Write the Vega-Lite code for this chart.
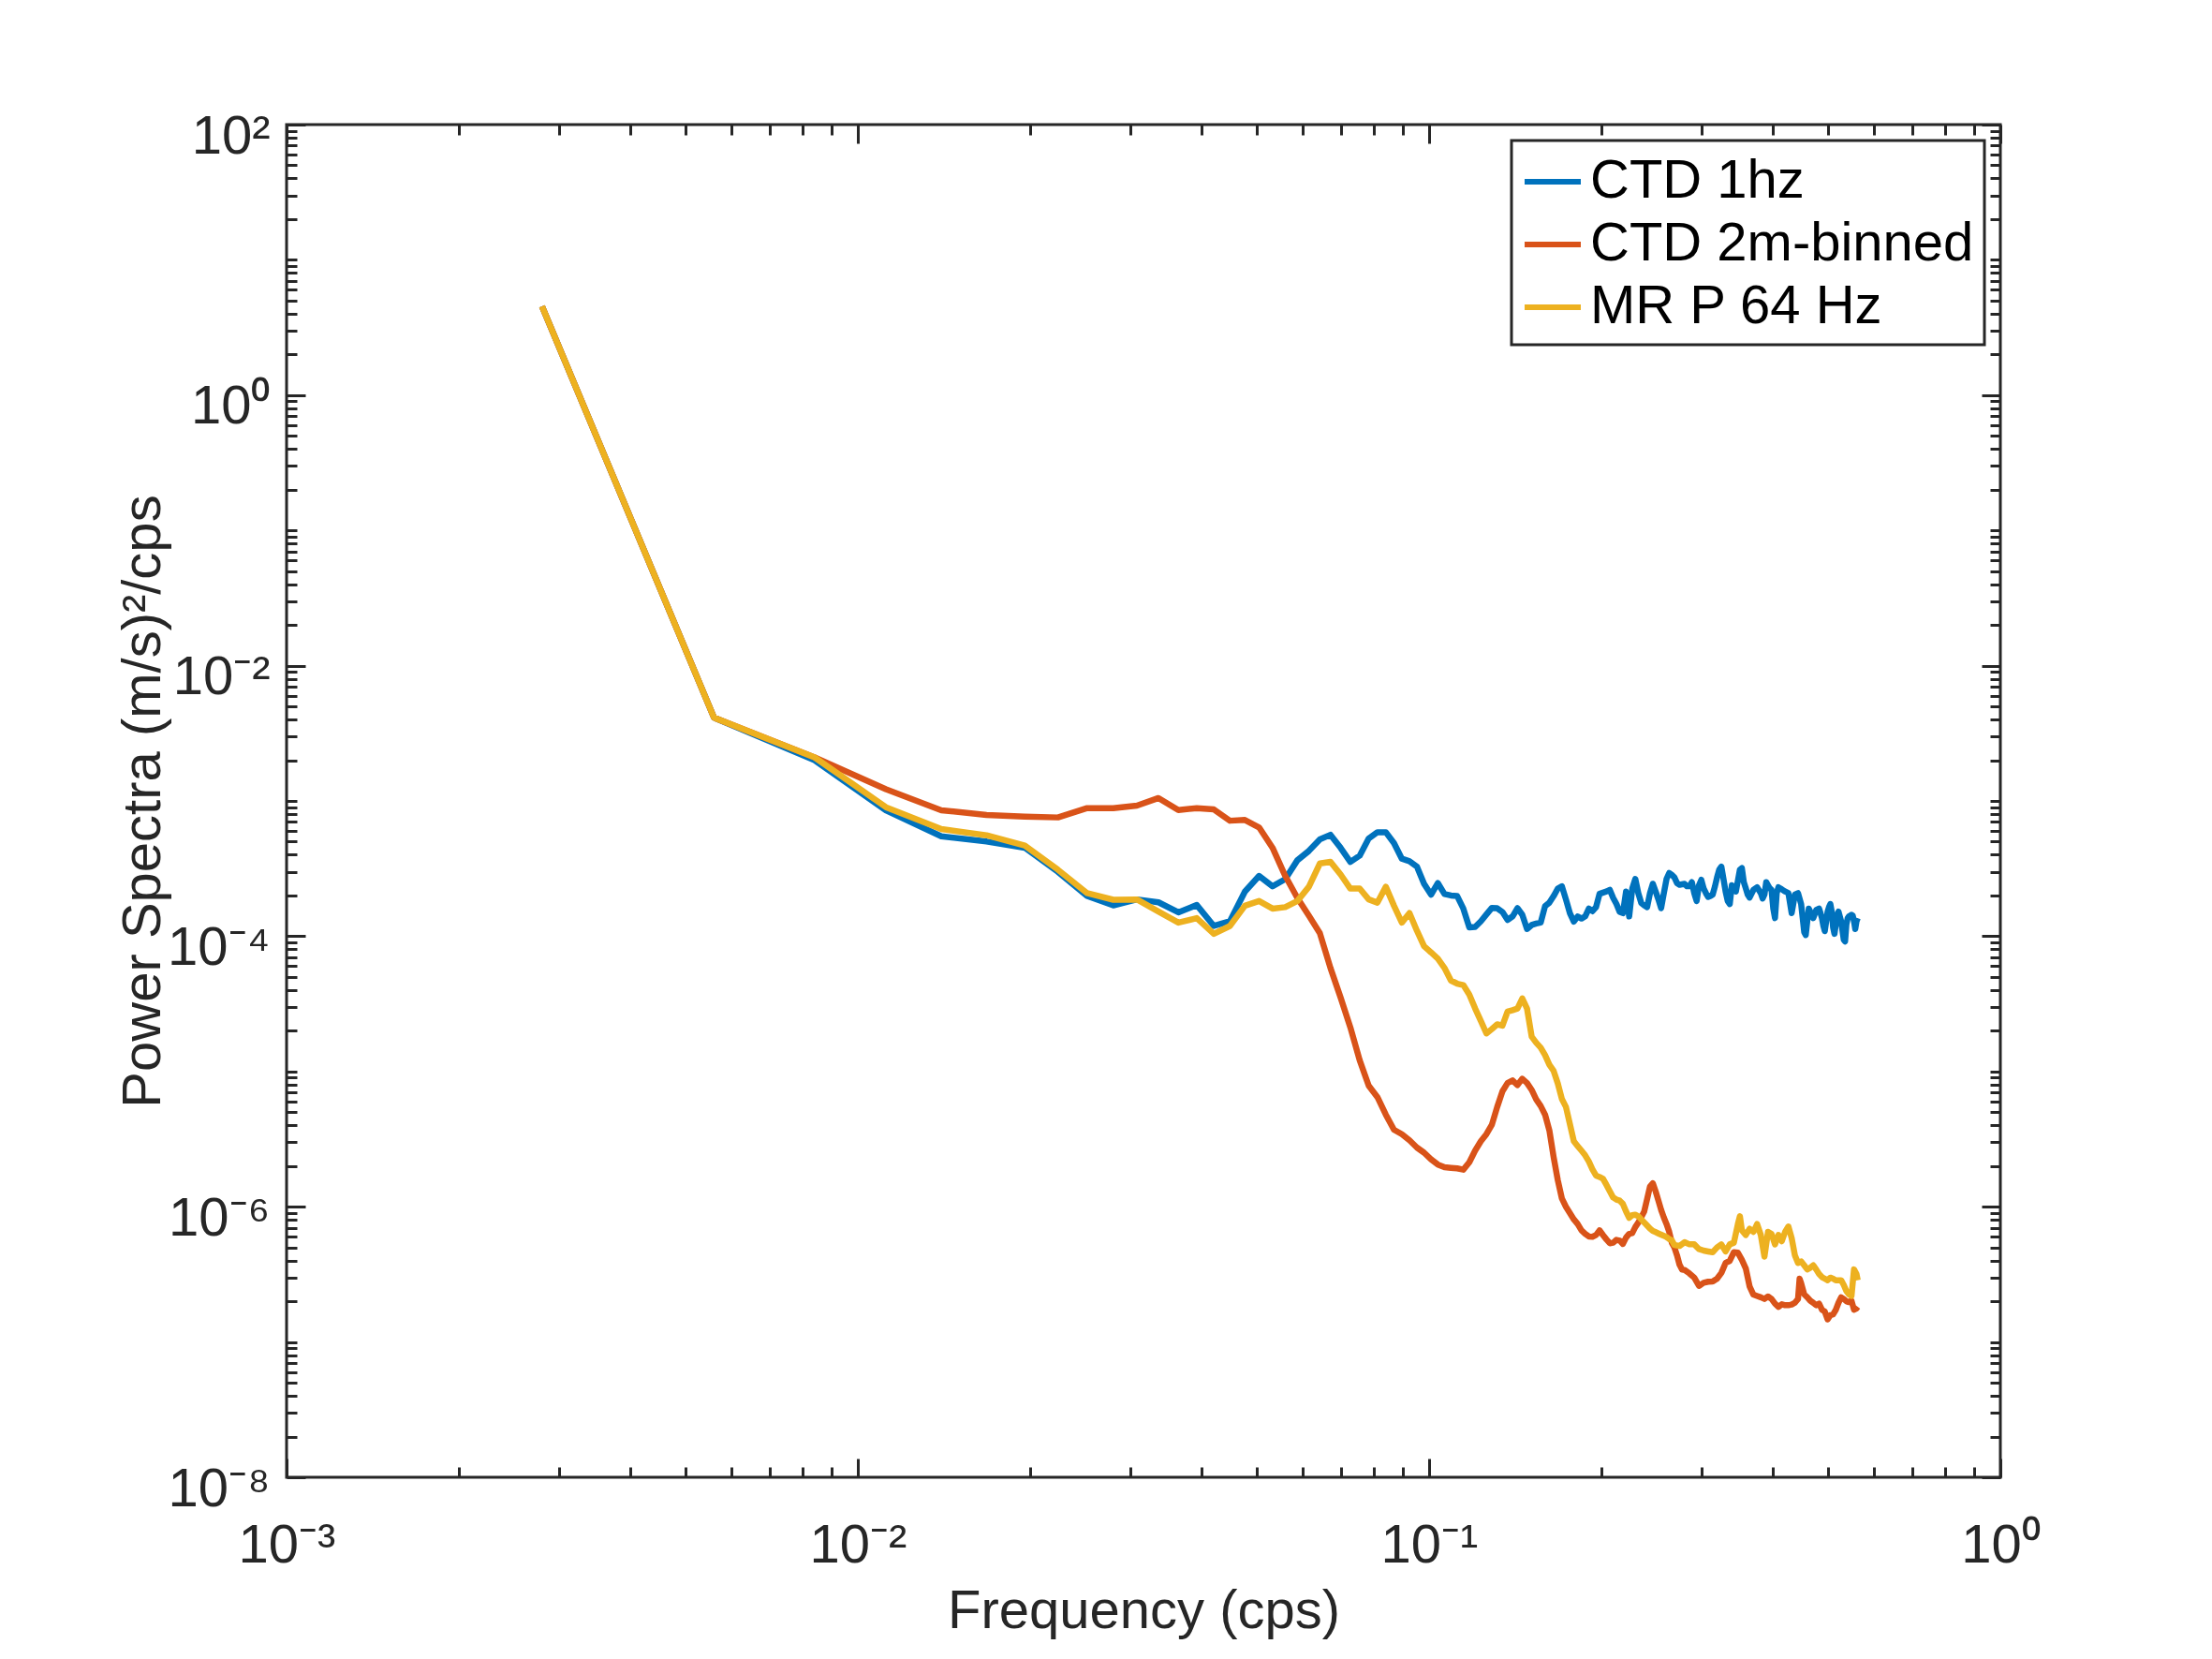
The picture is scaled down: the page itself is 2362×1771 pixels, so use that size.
{
  "$schema": "https://vega.github.io/schema/vega-lite/v6.json",
  "width": 1830,
  "height": 1444,
  "autosize": {"type": "none"},
  "padding": {"left": 306, "top": 133, "right": 226, "bottom": 194},
  "background": "white",
  "data": {
    "values": [
      {"f": 0.0028, "s": "CTD 1hz", "p": 4.54},
      {"f": 0.0056, "s": "CTD 1hz", "p": 0.00413},
      {"f": 0.0084, "s": "CTD 1hz", "p": 0.002},
      {"f": 0.0112, "s": "CTD 1hz", "p": 8.53e-4},
      {"f": 0.014, "s": "CTD 1hz", "p": 5.48e-4},
      {"f": 0.0168, "s": "CTD 1hz", "p": 5.01e-4},
      {"f": 0.0196, "s": "CTD 1hz", "p": 4.51e-4},
      {"f": 0.0224, "s": "CTD 1hz", "p": 2.99e-4},
      {"f": 0.0252, "s": "CTD 1hz", "p": 1.98e-4},
      {"f": 0.028, "s": "CTD 1hz", "p": 1.69e-4},
      {"f": 0.0308, "s": "CTD 1hz", "p": 1.87e-4},
      {"f": 0.0336, "s": "CTD 1hz", "p": 1.78e-4},
      {"f": 0.0364, "s": "CTD 1hz", "p": 1.50e-4},
      {"f": 0.0392, "s": "CTD 1hz", "p": 1.70e-4},
      {"f": 0.042, "s": "CTD 1hz", "p": 1.19e-4},
      {"f": 0.0448, "s": "CTD 1hz", "p": 1.29e-4},
      {"f": 0.0476, "s": "CTD 1hz", "p": 2.14e-4},
      {"f": 0.0504, "s": "CTD 1hz", "p": 2.79e-4},
      {"f": 0.0532, "s": "CTD 1hz", "p": 2.34e-4},
      {"f": 0.056, "s": "CTD 1hz", "p": 2.64e-4},
      {"f": 0.0588, "s": "CTD 1hz", "p": 3.64e-4},
      {"f": 0.0616, "s": "CTD 1hz", "p": 4.27e-4},
      {"f": 0.0644, "s": "CTD 1hz", "p": 5.20e-4},
      {"f": 0.0672, "s": "CTD 1hz", "p": 5.62e-4},
      {"f": 0.07, "s": "CTD 1hz", "p": 4.50e-4},
      {"f": 0.0728, "s": "CTD 1hz", "p": 3.54e-4},
      {"f": 0.0756, "s": "CTD 1hz", "p": 3.94e-4},
      {"f": 0.0784, "s": "CTD 1hz", "p": 5.28e-4},
      {"f": 0.0812, "s": "CTD 1hz", "p": 5.87e-4},
      {"f": 0.084, "s": "CTD 1hz", "p": 5.87e-4},
      {"f": 0.0868, "s": "CTD 1hz", "p": 4.88e-4},
      {"f": 0.0896, "s": "CTD 1hz", "p": 3.74e-4},
      {"f": 0.0924, "s": "CTD 1hz", "p": 3.58e-4},
      {"f": 0.0952, "s": "CTD 1hz", "p": 3.27e-4},
      {"f": 0.098, "s": "CTD 1hz", "p": 2.44e-4},
      {"f": 0.1008, "s": "CTD 1hz", "p": 2.03e-4},
      {"f": 0.1036, "s": "CTD 1hz", "p": 2.47e-4},
      {"f": 0.1064, "s": "CTD 1hz", "p": 2.05e-4},
      {"f": 0.1092, "s": "CTD 1hz", "p": 2.0e-4},
      {"f": 0.112, "s": "CTD 1hz", "p": 1.98e-4},
      {"f": 0.1148, "s": "CTD 1hz", "p": 1.60e-4},
      {"f": 0.1176, "s": "CTD 1hz", "p": 1.16e-4},
      {"f": 0.1204, "s": "CTD 1hz", "p": 1.17e-4},
      {"f": 0.1232, "s": "CTD 1hz", "p": 1.29e-4},
      {"f": 0.126, "s": "CTD 1hz", "p": 1.45e-4},
      {"f": 0.1288, "s": "CTD 1hz", "p": 1.62e-4},
      {"f": 0.1316, "s": "CTD 1hz", "p": 1.61e-4},
      {"f": 0.1344, "s": "CTD 1hz", "p": 1.51e-4},
      {"f": 0.1372, "s": "CTD 1hz", "p": 1.32e-4},
      {"f": 0.14, "s": "CTD 1hz", "p": 1.40e-4},
      {"f": 0.1428, "s": "CTD 1hz", "p": 1.61e-4},
      {"f": 0.1456, "s": "CTD 1hz", "p": 1.44e-4},
      {"f": 0.1484, "s": "CTD 1hz", "p": 1.13e-4},
      {"f": 0.1512, "s": "CTD 1hz", "p": 1.21e-4},
      {"f": 0.154, "s": "CTD 1hz", "p": 1.24e-4},
      {"f": 0.1568, "s": "CTD 1hz", "p": 1.26e-4},
      {"f": 0.1596, "s": "CTD 1hz", "p": 1.67e-4},
      {"f": 0.1624, "s": "CTD 1hz", "p": 1.77e-4},
      {"f": 0.1652, "s": "CTD 1hz", "p": 1.98e-4},
      {"f": 0.168, "s": "CTD 1hz", "p": 2.25e-4},
      {"f": 0.1708, "s": "CTD 1hz", "p": 2.34e-4},
      {"f": 0.1736, "s": "CTD 1hz", "p": 1.87e-4},
      {"f": 0.1764, "s": "CTD 1hz", "p": 1.48e-4},
      {"f": 0.1792, "s": "CTD 1hz", "p": 1.28e-4},
      {"f": 0.182, "s": "CTD 1hz", "p": 1.40e-4},
      {"f": 0.1848, "s": "CTD 1hz", "p": 1.35e-4},
      {"f": 0.1876, "s": "CTD 1hz", "p": 1.40e-4},
      {"f": 0.1904, "s": "CTD 1hz", "p": 1.60e-4},
      {"f": 0.1932, "s": "CTD 1hz", "p": 1.53e-4},
      {"f": 0.196, "s": "CTD 1hz", "p": 1.64e-4},
      {"f": 0.1988, "s": "CTD 1hz", "p": 2.06e-4},
      {"f": 0.2016, "s": "CTD 1hz", "p": 2.10e-4},
      {"f": 0.2044, "s": "CTD 1hz", "p": 2.14e-4},
      {"f": 0.2072, "s": "CTD 1hz", "p": 2.20e-4},
      {"f": 0.21, "s": "CTD 1hz", "p": 1.92e-4},
      {"f": 0.2128, "s": "CTD 1hz", "p": 1.73e-4},
      {"f": 0.2156, "s": "CTD 1hz", "p": 1.51e-4},
      {"f": 0.2184, "s": "CTD 1hz", "p": 1.48e-4},
      {"f": 0.2212, "s": "CTD 1hz", "p": 2.14e-4},
      {"f": 0.224, "s": "CTD 1hz", "p": 1.40e-4},
      {"f": 0.2268, "s": "CTD 1hz", "p": 2.25e-4},
      {"f": 0.2296, "s": "CTD 1hz", "p": 2.65e-4},
      {"f": 0.2324, "s": "CTD 1hz", "p": 2.08e-4},
      {"f": 0.2352, "s": "CTD 1hz", "p": 1.76e-4},
      {"f": 0.238, "s": "CTD 1hz", "p": 1.69e-4},
      {"f": 0.2408, "s": "CTD 1hz", "p": 1.64e-4},
      {"f": 0.2436, "s": "CTD 1hz", "p": 2.08e-4},
      {"f": 0.2464, "s": "CTD 1hz", "p": 2.44e-4},
      {"f": 0.2492, "s": "CTD 1hz", "p": 2.14e-4},
      {"f": 0.252, "s": "CTD 1hz", "p": 1.87e-4},
      {"f": 0.2548, "s": "CTD 1hz", "p": 1.61e-4},
      {"f": 0.2576, "s": "CTD 1hz", "p": 2.08e-4},
      {"f": 0.2604, "s": "CTD 1hz", "p": 2.65e-4},
      {"f": 0.2632, "s": "CTD 1hz", "p": 2.93e-4},
      {"f": 0.266, "s": "CTD 1hz", "p": 2.84e-4},
      {"f": 0.2688, "s": "CTD 1hz", "p": 2.72e-4},
      {"f": 0.2716, "s": "CTD 1hz", "p": 2.47e-4},
      {"f": 0.2744, "s": "CTD 1hz", "p": 2.40e-4},
      {"f": 0.2772, "s": "CTD 1hz", "p": 2.42e-4},
      {"f": 0.28, "s": "CTD 1hz", "p": 2.44e-4},
      {"f": 0.2828, "s": "CTD 1hz", "p": 2.34e-4},
      {"f": 0.2856, "s": "CTD 1hz", "p": 2.34e-4},
      {"f": 0.2884, "s": "CTD 1hz", "p": 2.51e-4},
      {"f": 0.2912, "s": "CTD 1hz", "p": 2.08e-4},
      {"f": 0.294, "s": "CTD 1hz", "p": 1.82e-4},
      {"f": 0.2968, "s": "CTD 1hz", "p": 2.38e-4},
      {"f": 0.2996, "s": "CTD 1hz", "p": 2.61e-4},
      {"f": 0.3024, "s": "CTD 1hz", "p": 2.26e-4},
      {"f": 0.3052, "s": "CTD 1hz", "p": 2.08e-4},
      {"f": 0.308, "s": "CTD 1hz", "p": 1.95e-4},
      {"f": 0.3108, "s": "CTD 1hz", "p": 1.98e-4},
      {"f": 0.3136, "s": "CTD 1hz", "p": 2.03e-4},
      {"f": 0.3164, "s": "CTD 1hz", "p": 2.32e-4},
      {"f": 0.3192, "s": "CTD 1hz", "p": 2.72e-4},
      {"f": 0.322, "s": "CTD 1hz", "p": 3.10e-4},
      {"f": 0.3248, "s": "CTD 1hz", "p": 3.27e-4},
      {"f": 0.3276, "s": "CTD 1hz", "p": 2.65e-4},
      {"f": 0.3304, "s": "CTD 1hz", "p": 2.14e-4},
      {"f": 0.3332, "s": "CTD 1hz", "p": 1.82e-4},
      {"f": 0.336, "s": "CTD 1hz", "p": 1.73e-4},
      {"f": 0.3388, "s": "CTD 1hz", "p": 2.38e-4},
      {"f": 0.3416, "s": "CTD 1hz", "p": 2.32e-4},
      {"f": 0.3444, "s": "CTD 1hz", "p": 2.14e-4},
      {"f": 0.3472, "s": "CTD 1hz", "p": 2.58e-4},
      {"f": 0.35, "s": "CTD 1hz", "p": 3.10e-4},
      {"f": 0.3528, "s": "CTD 1hz", "p": 3.19e-4},
      {"f": 0.3556, "s": "CTD 1hz", "p": 2.51e-4},
      {"f": 0.3584, "s": "CTD 1hz", "p": 2.26e-4},
      {"f": 0.3612, "s": "CTD 1hz", "p": 2.03e-4},
      {"f": 0.364, "s": "CTD 1hz", "p": 1.93e-4},
      {"f": 0.3696, "s": "CTD 1hz", "p": 2.20e-4},
      {"f": 0.3752, "s": "CTD 1hz", "p": 2.30e-4},
      {"f": 0.3808, "s": "CTD 1hz", "p": 2.08e-4},
      {"f": 0.3836, "s": "CTD 1hz", "p": 1.90e-4},
      {"f": 0.3864, "s": "CTD 1hz", "p": 2.03e-4},
      {"f": 0.3892, "s": "CTD 1hz", "p": 2.51e-4},
      {"f": 0.392, "s": "CTD 1hz", "p": 2.38e-4},
      {"f": 0.3948, "s": "CTD 1hz", "p": 2.26e-4},
      {"f": 0.3976, "s": "CTD 1hz", "p": 2.20e-4},
      {"f": 0.4004, "s": "CTD 1hz", "p": 1.60e-4},
      {"f": 0.4032, "s": "CTD 1hz", "p": 1.36e-4},
      {"f": 0.406, "s": "CTD 1hz", "p": 2.08e-4},
      {"f": 0.4088, "s": "CTD 1hz", "p": 2.30e-4},
      {"f": 0.4144, "s": "CTD 1hz", "p": 2.22e-4},
      {"f": 0.42, "s": "CTD 1hz", "p": 2.14e-4},
      {"f": 0.4256, "s": "CTD 1hz", "p": 2.08e-4},
      {"f": 0.4312, "s": "CTD 1hz", "p": 1.48e-4},
      {"f": 0.434, "s": "CTD 1hz", "p": 1.73e-4},
      {"f": 0.4368, "s": "CTD 1hz", "p": 2.03e-4},
      {"f": 0.4424, "s": "CTD 1hz", "p": 2.08e-4},
      {"f": 0.448, "s": "CTD 1hz", "p": 1.73e-4},
      {"f": 0.4508, "s": "CTD 1hz", "p": 1.36e-4},
      {"f": 0.4536, "s": "CTD 1hz", "p": 1.07e-4},
      {"f": 0.4564, "s": "CTD 1hz", "p": 1.02e-4},
      {"f": 0.4592, "s": "CTD 1hz", "p": 1.29e-4},
      {"f": 0.462, "s": "CTD 1hz", "p": 1.60e-4},
      {"f": 0.4648, "s": "CTD 1hz", "p": 1.52e-4},
      {"f": 0.4704, "s": "CTD 1hz", "p": 1.36e-4},
      {"f": 0.476, "s": "CTD 1hz", "p": 1.56e-4},
      {"f": 0.4816, "s": "CTD 1hz", "p": 1.60e-4},
      {"f": 0.4844, "s": "CTD 1hz", "p": 1.48e-4},
      {"f": 0.4872, "s": "CTD 1hz", "p": 1.36e-4},
      {"f": 0.49, "s": "CTD 1hz", "p": 1.19e-4},
      {"f": 0.4928, "s": "CTD 1hz", "p": 1.09e-4},
      {"f": 0.4956, "s": "CTD 1hz", "p": 1.29e-4},
      {"f": 0.4984, "s": "CTD 1hz", "p": 1.52e-4},
      {"f": 0.5012, "s": "CTD 1hz", "p": 1.64e-4},
      {"f": 0.504, "s": "CTD 1hz", "p": 1.73e-4},
      {"f": 0.5068, "s": "CTD 1hz", "p": 1.52e-4},
      {"f": 0.5096, "s": "CTD 1hz", "p": 1.16e-4},
      {"f": 0.5124, "s": "CTD 1hz", "p": 1.04e-4},
      {"f": 0.5152, "s": "CTD 1hz", "p": 1.22e-4},
      {"f": 0.518, "s": "CTD 1hz", "p": 1.44e-4},
      {"f": 0.5208, "s": "CTD 1hz", "p": 1.52e-4},
      {"f": 0.5236, "s": "CTD 1hz", "p": 1.40e-4},
      {"f": 0.5264, "s": "CTD 1hz", "p": 1.29e-4},
      {"f": 0.5292, "s": "CTD 1hz", "p": 1.10e-4},
      {"f": 0.532, "s": "CTD 1hz", "p": 9.4e-5},
      {"f": 0.5348, "s": "CTD 1hz", "p": 9.14e-5},
      {"f": 0.5376, "s": "CTD 1hz", "p": 1.22e-4},
      {"f": 0.5404, "s": "CTD 1hz", "p": 1.36e-4},
      {"f": 0.5432, "s": "CTD 1hz", "p": 1.40e-4},
      {"f": 0.546, "s": "CTD 1hz", "p": 1.42e-4},
      {"f": 0.5488, "s": "CTD 1hz", "p": 1.44e-4},
      {"f": 0.5516, "s": "CTD 1hz", "p": 1.42e-4},
      {"f": 0.5544, "s": "CTD 1hz", "p": 1.29e-4},
      {"f": 0.5572, "s": "CTD 1hz", "p": 1.13e-4},
      {"f": 0.56, "s": "CTD 1hz", "p": 1.29e-4},
      {"f": 0.5628, "s": "CTD 1hz", "p": 1.36e-4},

      {"f": 0.0028, "s": "CTD 2m-binned", "p": 4.54},
      {"f": 0.0056, "s": "CTD 2m-binned", "p": 0.00413},
      {"f": 0.0084, "s": "CTD 2m-binned", "p": 0.0021},
      {"f": 0.0112, "s": "CTD 2m-binned", "p": 0.00122},
      {"f": 0.014, "s": "CTD 2m-binned", "p": 8.53e-4},
      {"f": 0.0168, "s": "CTD 2m-binned", "p": 7.87e-4},
      {"f": 0.0196, "s": "CTD 2m-binned", "p": 7.67e-4},
      {"f": 0.0224, "s": "CTD 2m-binned", "p": 7.55e-4},
      {"f": 0.0252, "s": "CTD 2m-binned", "p": 8.85e-4},
      {"f": 0.028, "s": "CTD 2m-binned", "p": 8.85e-4},
      {"f": 0.0308, "s": "CTD 2m-binned", "p": 9.23e-4},
      {"f": 0.0336, "s": "CTD 2m-binned", "p": 1.05e-3},
      {"f": 0.0364, "s": "CTD 2m-binned", "p": 8.57e-4},
      {"f": 0.0392, "s": "CTD 2m-binned", "p": 8.85e-4},
      {"f": 0.042, "s": "CTD 2m-binned", "p": 8.65e-4},
      {"f": 0.0448, "s": "CTD 2m-binned", "p": 7.14e-4},
      {"f": 0.0476, "s": "CTD 2m-binned", "p": 7.23e-4},
      {"f": 0.0504, "s": "CTD 2m-binned", "p": 6.37e-4},
      {"f": 0.0532, "s": "CTD 2m-binned", "p": 4.51e-4},
      {"f": 0.056, "s": "CTD 2m-binned", "p": 2.79e-4},
      {"f": 0.0588, "s": "CTD 2m-binned", "p": 1.92e-4},
      {"f": 0.0616, "s": "CTD 2m-binned", "p": 1.42e-4},
      {"f": 0.0644, "s": "CTD 2m-binned", "p": 1.05e-4},
      {"f": 0.0672, "s": "CTD 2m-binned", "p": 5.82e-5},
      {"f": 0.07, "s": "CTD 2m-binned", "p": 3.52e-5},
      {"f": 0.0728, "s": "CTD 2m-binned", "p": 2.12e-5},
      {"f": 0.0756, "s": "CTD 2m-binned", "p": 1.21e-5},
      {"f": 0.0784, "s": "CTD 2m-binned", "p": 7.85e-6},
      {"f": 0.0812, "s": "CTD 2m-binned", "p": 6.46e-6},
      {"f": 0.084, "s": "CTD 2m-binned", "p": 4.79e-6},
      {"f": 0.0868, "s": "CTD 2m-binned", "p": 3.71e-6},
      {"f": 0.0896, "s": "CTD 2m-binned", "p": 3.44e-6},
      {"f": 0.0924, "s": "CTD 2m-binned", "p": 3.10e-6},
      {"f": 0.0952, "s": "CTD 2m-binned", "p": 2.74e-6},
      {"f": 0.098, "s": "CTD 2m-binned", "p": 2.51e-6},
      {"f": 0.1008, "s": "CTD 2m-binned", "p": 2.24e-6},
      {"f": 0.1036, "s": "CTD 2m-binned", "p": 2.05e-6},
      {"f": 0.1064, "s": "CTD 2m-binned", "p": 1.96e-6},
      {"f": 0.1092, "s": "CTD 2m-binned", "p": 1.94e-6},
      {"f": 0.112, "s": "CTD 2m-binned", "p": 1.92e-6},
      {"f": 0.1148, "s": "CTD 2m-binned", "p": 1.88e-6},
      {"f": 0.1176, "s": "CTD 2m-binned", "p": 2.13e-6},
      {"f": 0.1204, "s": "CTD 2m-binned", "p": 2.60e-6},
      {"f": 0.1232, "s": "CTD 2m-binned", "p": 3.05e-6},
      {"f": 0.126, "s": "CTD 2m-binned", "p": 3.44e-6},
      {"f": 0.1288, "s": "CTD 2m-binned", "p": 4.04e-6},
      {"f": 0.1316, "s": "CTD 2m-binned", "p": 5.47e-6},
      {"f": 0.1344, "s": "CTD 2m-binned", "p": 7.13e-6},
      {"f": 0.1372, "s": "CTD 2m-binned", "p": 8.22e-6},
      {"f": 0.14, "s": "CTD 2m-binned", "p": 8.59e-6},
      {"f": 0.1428, "s": "CTD 2m-binned", "p": 7.94e-6},
      {"f": 0.1456, "s": "CTD 2m-binned", "p": 8.83e-6},
      {"f": 0.1484, "s": "CTD 2m-binned", "p": 8.22e-6},
      {"f": 0.1512, "s": "CTD 2m-binned", "p": 7.31e-6},
      {"f": 0.154, "s": "CTD 2m-binned", "p": 6.22e-6},
      {"f": 0.1568, "s": "CTD 2m-binned", "p": 5.56e-6},
      {"f": 0.1596, "s": "CTD 2m-binned", "p": 4.79e-6},
      {"f": 0.1624, "s": "CTD 2m-binned", "p": 3.66e-6},
      {"f": 0.1652, "s": "CTD 2m-binned", "p": 2.33e-6},
      {"f": 0.168, "s": "CTD 2m-binned", "p": 1.57e-6},
      {"f": 0.1708, "s": "CTD 2m-binned", "p": 1.15e-6},
      {"f": 0.1736, "s": "CTD 2m-binned", "p": 1.0e-6},
      {"f": 0.1764, "s": "CTD 2m-binned", "p": 8.97e-7},
      {"f": 0.1792, "s": "CTD 2m-binned", "p": 8.07e-7},
      {"f": 0.182, "s": "CTD 2m-binned", "p": 7.45e-7},
      {"f": 0.1848, "s": "CTD 2m-binned", "p": 6.70e-7},
      {"f": 0.1876, "s": "CTD 2m-binned", "p": 6.31e-7},
      {"f": 0.1904, "s": "CTD 2m-binned", "p": 6.03e-7},
      {"f": 0.1932, "s": "CTD 2m-binned", "p": 6.0e-7},
      {"f": 0.196, "s": "CTD 2m-binned", "p": 6.18e-7},
      {"f": 0.1988, "s": "CTD 2m-binned", "p": 6.70e-7},
      {"f": 0.2016, "s": "CTD 2m-binned", "p": 6.17e-7},
      {"f": 0.2044, "s": "CTD 2m-binned", "p": 5.73e-7},
      {"f": 0.2072, "s": "CTD 2m-binned", "p": 5.37e-7},
      {"f": 0.21, "s": "CTD 2m-binned", "p": 5.42e-7},
      {"f": 0.2128, "s": "CTD 2m-binned", "p": 5.69e-7},
      {"f": 0.2156, "s": "CTD 2m-binned", "p": 5.62e-7},
      {"f": 0.2184, "s": "CTD 2m-binned", "p": 5.31e-7},
      {"f": 0.2212, "s": "CTD 2m-binned", "p": 5.92e-7},
      {"f": 0.224, "s": "CTD 2m-binned", "p": 6.31e-7},
      {"f": 0.2268, "s": "CTD 2m-binned", "p": 6.38e-7},
      {"f": 0.2296, "s": "CTD 2m-binned", "p": 7.08e-7},
      {"f": 0.2324, "s": "CTD 2m-binned", "p": 7.64e-7},
      {"f": 0.2352, "s": "CTD 2m-binned", "p": 8.37e-7},
      {"f": 0.238, "s": "CTD 2m-binned", "p": 9.23e-7},
      {"f": 0.2408, "s": "CTD 2m-binned", "p": 1.14e-6},
      {"f": 0.2436, "s": "CTD 2m-binned", "p": 1.41e-6},
      {"f": 0.2464, "s": "CTD 2m-binned", "p": 1.49e-6},
      {"f": 0.2492, "s": "CTD 2m-binned", "p": 1.30e-6},
      {"f": 0.252, "s": "CTD 2m-binned", "p": 1.11e-6},
      {"f": 0.2548, "s": "CTD 2m-binned", "p": 9.46e-7},
      {"f": 0.2576, "s": "CTD 2m-binned", "p": 8.32e-7},
      {"f": 0.2604, "s": "CTD 2m-binned", "p": 7.45e-7},
      {"f": 0.2632, "s": "CTD 2m-binned", "p": 6.53e-7},
      {"f": 0.266, "s": "CTD 2m-binned", "p": 5.42e-7},
      {"f": 0.2688, "s": "CTD 2m-binned", "p": 5.0e-7},
      {"f": 0.2716, "s": "CTD 2m-binned", "p": 4.38e-7},
      {"f": 0.2744, "s": "CTD 2m-binned", "p": 3.73e-7},
      {"f": 0.2772, "s": "CTD 2m-binned", "p": 3.43e-7},
      {"f": 0.28, "s": "CTD 2m-binned", "p": 3.41e-7},
      {"f": 0.2856, "s": "CTD 2m-binned", "p": 3.21e-7},
      {"f": 0.2912, "s": "CTD 2m-binned", "p": 2.99e-7},
      {"f": 0.2968, "s": "CTD 2m-binned", "p": 2.60e-7},
      {"f": 0.3024, "s": "CTD 2m-binned", "p": 2.74e-7},
      {"f": 0.308, "s": "CTD 2m-binned", "p": 2.79e-7},
      {"f": 0.3136, "s": "CTD 2m-binned", "p": 2.80e-7},
      {"f": 0.3192, "s": "CTD 2m-binned", "p": 2.94e-7},
      {"f": 0.3248, "s": "CTD 2m-binned", "p": 3.24e-7},
      {"f": 0.3304, "s": "CTD 2m-binned", "p": 3.84e-7},
      {"f": 0.336, "s": "CTD 2m-binned", "p": 3.98e-7},
      {"f": 0.3416, "s": "CTD 2m-binned", "p": 4.61e-7},
      {"f": 0.3472, "s": "CTD 2m-binned", "p": 4.57e-7},
      {"f": 0.3528, "s": "CTD 2m-binned", "p": 4.05e-7},
      {"f": 0.3584, "s": "CTD 2m-binned", "p": 3.50e-7},
      {"f": 0.364, "s": "CTD 2m-binned", "p": 2.57e-7},
      {"f": 0.3696, "s": "CTD 2m-binned", "p": 2.24e-7},
      {"f": 0.3752, "s": "CTD 2m-binned", "p": 2.19e-7},
      {"f": 0.3808, "s": "CTD 2m-binned", "p": 2.14e-7},
      {"f": 0.3864, "s": "CTD 2m-binned", "p": 2.08e-7},
      {"f": 0.392, "s": "CTD 2m-binned", "p": 2.17e-7},
      {"f": 0.3976, "s": "CTD 2m-binned", "p": 2.08e-7},
      {"f": 0.4032, "s": "CTD 2m-binned", "p": 1.92e-7},
      {"f": 0.4088, "s": "CTD 2m-binned", "p": 1.82e-7},
      {"f": 0.4144, "s": "CTD 2m-binned", "p": 1.90e-7},
      {"f": 0.42, "s": "CTD 2m-binned", "p": 1.87e-7},
      {"f": 0.4256, "s": "CTD 2m-binned", "p": 1.87e-7},
      {"f": 0.4312, "s": "CTD 2m-binned", "p": 1.89e-7},
      {"f": 0.4368, "s": "CTD 2m-binned", "p": 1.95e-7},
      {"f": 0.4424, "s": "CTD 2m-binned", "p": 2.08e-7},
      {"f": 0.4452, "s": "CTD 2m-binned", "p": 2.94e-7},
      {"f": 0.448, "s": "CTD 2m-binned", "p": 2.72e-7},
      {"f": 0.4536, "s": "CTD 2m-binned", "p": 2.25e-7},
      {"f": 0.4592, "s": "CTD 2m-binned", "p": 2.14e-7},
      {"f": 0.4648, "s": "CTD 2m-binned", "p": 2.02e-7},
      {"f": 0.4704, "s": "CTD 2m-binned", "p": 1.95e-7},
      {"f": 0.476, "s": "CTD 2m-binned", "p": 1.87e-7},
      {"f": 0.4816, "s": "CTD 2m-binned", "p": 1.92e-7},
      {"f": 0.4872, "s": "CTD 2m-binned", "p": 1.73e-7},
      {"f": 0.4928, "s": "CTD 2m-binned", "p": 1.68e-7},
      {"f": 0.4984, "s": "CTD 2m-binned", "p": 1.47e-7},
      {"f": 0.504, "s": "CTD 2m-binned", "p": 1.58e-7},
      {"f": 0.5096, "s": "CTD 2m-binned", "p": 1.60e-7},
      {"f": 0.5152, "s": "CTD 2m-binned", "p": 1.73e-7},
      {"f": 0.5208, "s": "CTD 2m-binned", "p": 1.95e-7},
      {"f": 0.5264, "s": "CTD 2m-binned", "p": 2.14e-7},
      {"f": 0.532, "s": "CTD 2m-binned", "p": 2.08e-7},
      {"f": 0.5376, "s": "CTD 2m-binned", "p": 2.0e-7},
      {"f": 0.5432, "s": "CTD 2m-binned", "p": 1.97e-7},
      {"f": 0.5488, "s": "CTD 2m-binned", "p": 2.02e-7},
      {"f": 0.5544, "s": "CTD 2m-binned", "p": 1.73e-7},
      {"f": 0.56, "s": "CTD 2m-binned", "p": 1.77e-7},
      {"f": 0.5628, "s": "CTD 2m-binned", "p": 1.82e-7},

      {"f": 0.0028, "s": "MR P 64 Hz", "p": 4.54},
      {"f": 0.0056, "s": "MR P 64 Hz", "p": 0.00413},
      {"f": 0.0084, "s": "MR P 64 Hz", "p": 0.0021},
      {"f": 0.0112, "s": "MR P 64 Hz", "p": 8.99e-4},
      {"f": 0.014, "s": "MR P 64 Hz", "p": 6.19e-4},
      {"f": 0.0168, "s": "MR P 64 Hz", "p": 5.57e-4},
      {"f": 0.0196, "s": "MR P 64 Hz", "p": 4.68e-4},
      {"f": 0.0224, "s": "MR P 64 Hz", "p": 3.10e-4},
      {"f": 0.0252, "s": "MR P 64 Hz", "p": 2.08e-4},
      {"f": 0.028, "s": "MR P 64 Hz", "p": 1.86e-4},
      {"f": 0.0308, "s": "MR P 64 Hz", "p": 1.87e-4},
      {"f": 0.0336, "s": "MR P 64 Hz", "p": 1.52e-4},
      {"f": 0.0364, "s": "MR P 64 Hz", "p": 1.26e-4},
      {"f": 0.0392, "s": "MR P 64 Hz", "p": 1.36e-4},
      {"f": 0.042, "s": "MR P 64 Hz", "p": 1.04e-4},
      {"f": 0.0448, "s": "MR P 64 Hz", "p": 1.19e-4},
      {"f": 0.0476, "s": "MR P 64 Hz", "p": 1.68e-4},
      {"f": 0.0504, "s": "MR P 64 Hz", "p": 1.82e-4},
      {"f": 0.0532, "s": "MR P 64 Hz", "p": 1.60e-4},
      {"f": 0.056, "s": "MR P 64 Hz", "p": 1.64e-4},
      {"f": 0.0588, "s": "MR P 64 Hz", "p": 1.82e-4},
      {"f": 0.0616, "s": "MR P 64 Hz", "p": 2.32e-4},
      {"f": 0.0644, "s": "MR P 64 Hz", "p": 3.45e-4},
      {"f": 0.0672, "s": "MR P 64 Hz", "p": 3.55e-4},
      {"f": 0.07, "s": "MR P 64 Hz", "p": 2.86e-4},
      {"f": 0.0728, "s": "MR P 64 Hz", "p": 2.25e-4},
      {"f": 0.0756, "s": "MR P 64 Hz", "p": 2.25e-4},
      {"f": 0.0784, "s": "MR P 64 Hz", "p": 1.87e-4},
      {"f": 0.0812, "s": "MR P 64 Hz", "p": 1.77e-4},
      {"f": 0.084, "s": "MR P 64 Hz", "p": 2.32e-4},
      {"f": 0.0868, "s": "MR P 64 Hz", "p": 1.68e-4},
      {"f": 0.0896, "s": "MR P 64 Hz", "p": 1.26e-4},
      {"f": 0.0924, "s": "MR P 64 Hz", "p": 1.48e-4},
      {"f": 0.0952, "s": "MR P 64 Hz", "p": 1.10e-4},
      {"f": 0.098, "s": "MR P 64 Hz", "p": 8.43e-5},
      {"f": 0.1008, "s": "MR P 64 Hz", "p": 7.59e-5},
      {"f": 0.1036, "s": "MR P 64 Hz", "p": 6.82e-5},
      {"f": 0.1064, "s": "MR P 64 Hz", "p": 5.82e-5},
      {"f": 0.1092, "s": "MR P 64 Hz", "p": 4.70e-5},
      {"f": 0.112, "s": "MR P 64 Hz", "p": 4.46e-5},
      {"f": 0.1148, "s": "MR P 64 Hz", "p": 4.35e-5},
      {"f": 0.1176, "s": "MR P 64 Hz", "p": 3.70e-5},
      {"f": 0.1204, "s": "MR P 64 Hz", "p": 2.92e-5},
      {"f": 0.1232, "s": "MR P 64 Hz", "p": 2.36e-5},
      {"f": 0.126, "s": "MR P 64 Hz", "p": 1.91e-5},
      {"f": 0.1288, "s": "MR P 64 Hz", "p": 2.06e-5},
      {"f": 0.1316, "s": "MR P 64 Hz", "p": 2.23e-5},
      {"f": 0.1344, "s": "MR P 64 Hz", "p": 2.18e-5},
      {"f": 0.1372, "s": "MR P 64 Hz", "p": 2.77e-5},
      {"f": 0.14, "s": "MR P 64 Hz", "p": 2.84e-5},
      {"f": 0.1428, "s": "MR P 64 Hz", "p": 2.92e-5},
      {"f": 0.1456, "s": "MR P 64 Hz", "p": 3.47e-5},
      {"f": 0.1484, "s": "MR P 64 Hz", "p": 2.92e-5},
      {"f": 0.1512, "s": "MR P 64 Hz", "p": 1.81e-5},
      {"f": 0.154, "s": "MR P 64 Hz", "p": 1.63e-5},
      {"f": 0.1568, "s": "MR P 64 Hz", "p": 1.50e-5},
      {"f": 0.1596, "s": "MR P 64 Hz", "p": 1.32e-5},
      {"f": 0.1624, "s": "MR P 64 Hz", "p": 1.12e-5},
      {"f": 0.1652, "s": "MR P 64 Hz", "p": 1.01e-5},
      {"f": 0.168, "s": "MR P 64 Hz", "p": 8.15e-6},
      {"f": 0.1708, "s": "MR P 64 Hz", "p": 6.25e-6},
      {"f": 0.1736, "s": "MR P 64 Hz", "p": 5.47e-6},
      {"f": 0.1764, "s": "MR P 64 Hz", "p": 4.08e-6},
      {"f": 0.1792, "s": "MR P 64 Hz", "p": 3.05e-6},
      {"f": 0.182, "s": "MR P 64 Hz", "p": 2.81e-6},
      {"f": 0.1848, "s": "MR P 64 Hz", "p": 2.60e-6},
      {"f": 0.1876, "s": "MR P 64 Hz", "p": 2.40e-6},
      {"f": 0.1904, "s": "MR P 64 Hz", "p": 2.16e-6},
      {"f": 0.1932, "s": "MR P 64 Hz", "p": 1.89e-6},
      {"f": 0.196, "s": "MR P 64 Hz", "p": 1.70e-6},
      {"f": 0.1988, "s": "MR P 64 Hz", "p": 1.66e-6},
      {"f": 0.2016, "s": "MR P 64 Hz", "p": 1.61e-6},
      {"f": 0.2044, "s": "MR P 64 Hz", "p": 1.45e-6},
      {"f": 0.2072, "s": "MR P 64 Hz", "p": 1.30e-6},
      {"f": 0.21, "s": "MR P 64 Hz", "p": 1.17e-6},
      {"f": 0.2128, "s": "MR P 64 Hz", "p": 1.13e-6},
      {"f": 0.2156, "s": "MR P 64 Hz", "p": 1.11e-6},
      {"f": 0.2184, "s": "MR P 64 Hz", "p": 1.05e-6},
      {"f": 0.2212, "s": "MR P 64 Hz", "p": 9.23e-7},
      {"f": 0.224, "s": "MR P 64 Hz", "p": 8.28e-7},
      {"f": 0.2268, "s": "MR P 64 Hz", "p": 8.65e-7},
      {"f": 0.2296, "s": "MR P 64 Hz", "p": 8.73e-7},
      {"f": 0.2324, "s": "MR P 64 Hz", "p": 8.51e-7},
      {"f": 0.2352, "s": "MR P 64 Hz", "p": 8.07e-7},
      {"f": 0.238, "s": "MR P 64 Hz", "p": 7.66e-7},
      {"f": 0.2408, "s": "MR P 64 Hz", "p": 7.26e-7},
      {"f": 0.2436, "s": "MR P 64 Hz", "p": 6.89e-7},
      {"f": 0.2464, "s": "MR P 64 Hz", "p": 6.62e-7},
      {"f": 0.2492, "s": "MR P 64 Hz", "p": 6.49e-7},
      {"f": 0.252, "s": "MR P 64 Hz", "p": 6.35e-7},
      {"f": 0.2548, "s": "MR P 64 Hz", "p": 6.22e-7},
      {"f": 0.2576, "s": "MR P 64 Hz", "p": 6.10e-7},
      {"f": 0.2604, "s": "MR P 64 Hz", "p": 5.96e-7},
      {"f": 0.2632, "s": "MR P 64 Hz", "p": 5.77e-7},
      {"f": 0.266, "s": "MR P 64 Hz", "p": 5.65e-7},
      {"f": 0.2688, "s": "MR P 64 Hz", "p": 5.21e-7},
      {"f": 0.2744, "s": "MR P 64 Hz", "p": 5.13e-7},
      {"f": 0.28, "s": "MR P 64 Hz", "p": 5.47e-7},
      {"f": 0.2856, "s": "MR P 64 Hz", "p": 5.27e-7},
      {"f": 0.2912, "s": "MR P 64 Hz", "p": 5.27e-7},
      {"f": 0.2968, "s": "MR P 64 Hz", "p": 4.86e-7},
      {"f": 0.3024, "s": "MR P 64 Hz", "p": 4.74e-7},
      {"f": 0.308, "s": "MR P 64 Hz", "p": 4.67e-7},
      {"f": 0.3136, "s": "MR P 64 Hz", "p": 4.61e-7},
      {"f": 0.3192, "s": "MR P 64 Hz", "p": 5.0e-7},
      {"f": 0.3248, "s": "MR P 64 Hz", "p": 5.27e-7},
      {"f": 0.3304, "s": "MR P 64 Hz", "p": 4.67e-7},
      {"f": 0.336, "s": "MR P 64 Hz", "p": 5.27e-7},
      {"f": 0.3416, "s": "MR P 64 Hz", "p": 5.42e-7},
      {"f": 0.3472, "s": "MR P 64 Hz", "p": 7.45e-7},
      {"f": 0.35, "s": "MR P 64 Hz", "p": 8.51e-7},
      {"f": 0.3528, "s": "MR P 64 Hz", "p": 6.70e-7},
      {"f": 0.3584, "s": "MR P 64 Hz", "p": 6.18e-7},
      {"f": 0.364, "s": "MR P 64 Hz", "p": 6.87e-7},
      {"f": 0.3696, "s": "MR P 64 Hz", "p": 6.52e-7},
      {"f": 0.3752, "s": "MR P 64 Hz", "p": 7.45e-7},
      {"f": 0.3808, "s": "MR P 64 Hz", "p": 6.18e-7},
      {"f": 0.3864, "s": "MR P 64 Hz", "p": 4.27e-7},
      {"f": 0.392, "s": "MR P 64 Hz", "p": 6.52e-7},
      {"f": 0.3976, "s": "MR P 64 Hz", "p": 6.28e-7},
      {"f": 0.4032, "s": "MR P 64 Hz", "p": 5.27e-7},
      {"f": 0.4088, "s": "MR P 64 Hz", "p": 6.18e-7},
      {"f": 0.4144, "s": "MR P 64 Hz", "p": 5.56e-7},
      {"f": 0.42, "s": "MR P 64 Hz", "p": 6.52e-7},
      {"f": 0.4256, "s": "MR P 64 Hz", "p": 7.14e-7},
      {"f": 0.4312, "s": "MR P 64 Hz", "p": 5.86e-7},
      {"f": 0.4368, "s": "MR P 64 Hz", "p": 4.38e-7},
      {"f": 0.4424, "s": "MR P 64 Hz", "p": 3.84e-7},
      {"f": 0.448, "s": "MR P 64 Hz", "p": 3.94e-7},
      {"f": 0.4536, "s": "MR P 64 Hz", "p": 3.69e-7},
      {"f": 0.4592, "s": "MR P 64 Hz", "p": 3.44e-7},
      {"f": 0.4648, "s": "MR P 64 Hz", "p": 3.54e-7},
      {"f": 0.4704, "s": "MR P 64 Hz", "p": 3.69e-7},
      {"f": 0.476, "s": "MR P 64 Hz", "p": 3.44e-7},
      {"f": 0.4816, "s": "MR P 64 Hz", "p": 3.18e-7},
      {"f": 0.4872, "s": "MR P 64 Hz", "p": 3.02e-7},
      {"f": 0.4928, "s": "MR P 64 Hz", "p": 2.94e-7},
      {"f": 0.4984, "s": "MR P 64 Hz", "p": 2.86e-7},
      {"f": 0.504, "s": "MR P 64 Hz", "p": 2.99e-7},
      {"f": 0.5096, "s": "MR P 64 Hz", "p": 2.94e-7},
      {"f": 0.5152, "s": "MR P 64 Hz", "p": 2.86e-7},
      {"f": 0.5208, "s": "MR P 64 Hz", "p": 2.86e-7},
      {"f": 0.5264, "s": "MR P 64 Hz", "p": 2.86e-7},
      {"f": 0.532, "s": "MR P 64 Hz", "p": 2.64e-7},
      {"f": 0.5376, "s": "MR P 64 Hz", "p": 2.38e-7},
      {"f": 0.5432, "s": "MR P 64 Hz", "p": 2.25e-7},
      {"f": 0.5488, "s": "MR P 64 Hz", "p": 2.19e-7},
      {"f": 0.5544, "s": "MR P 64 Hz", "p": 3.44e-7},
      {"f": 0.56, "s": "MR P 64 Hz", "p": 3.18e-7},
      {"f": 0.5628, "s": "MR P 64 Hz", "p": 2.86e-7}
    ]
  },
  "layer": [
    {
      "mark": {"type": "line", "opacity": 0},
      "encoding": {
        "x": {
          "field": "f", "type": "quantitative",
          "scale": {"type": "log", "domain": [0.001, 1], "nice": false},
          "axis": {"orient": "bottom", "title": null, "labels": false, "tickSize": -11,
            "values": [0.002, 0.003, 0.004, 0.005, 0.006, 0.007, 0.008, 0.009, 0.02, 0.03, 0.04, 0.05, 0.06, 0.07, 0.08, 0.09, 0.2, 0.3, 0.4, 0.5, 0.6, 0.7, 0.8, 0.9]}
        },
        "y": {
          "field": "p", "type": "quantitative",
          "scale": {"type": "log", "domain": [1e-8, 100], "nice": false},
          "axis": {"orient": "left", "title": null, "labels": false, "tickSize": -11,
            "values": [2e-8, 3e-8, 4e-8, 5e-8, 6e-8, 7e-8, 8e-8, 9e-8, 1e-7, 2e-7, 3e-7, 4e-7, 5e-7, 6e-7, 7e-7, 8e-7, 9e-7, 2e-6, 3e-6, 4e-6, 5e-6, 6e-6, 7e-6, 8e-6, 9e-6, 1e-5, 2e-5, 3e-5, 4e-5, 5e-5, 6e-5, 7e-5, 8e-5, 9e-5, 2e-4, 3e-4, 4e-4, 5e-4, 6e-4, 7e-4, 8e-4, 9e-4, 1e-3, 2e-3, 3e-3, 4e-3, 5e-3, 6e-3, 7e-3, 8e-3, 9e-3, 0.02, 0.03, 0.04, 0.05, 0.06, 0.07, 0.08, 0.09, 0.1, 0.2, 0.3, 0.4, 0.5, 0.6, 0.7, 0.8, 0.9, 2, 3, 4, 5, 6, 7, 8, 9, 10, 20, 30, 40, 50, 60, 70, 80, 90]}
        }
      }
    },
    {
      "mark": {"type": "line", "opacity": 0},
      "encoding": {
        "x": {
          "field": "f", "type": "quantitative",
          "scale": {"type": "log", "domain": [0.001, 1], "nice": false},
          "axis": {"orient": "bottom", "title": null, "labels": false, "tickSize": -20, "values": [0.001, 0.01, 0.1, 1]}
        },
        "y": {
          "field": "p", "type": "quantitative",
          "scale": {"type": "log", "domain": [1e-8, 100], "nice": false},
          "axis": {"orient": "left", "title": null, "labels": false, "tickSize": -20, "values": [1e-8, 1e-6, 1e-4, 1e-2, 1, 100]}
        }
      }
    },
    {
      "mark": {"type": "line", "opacity": 0},
      "encoding": {
        "x": {
          "field": "f", "type": "quantitative",
          "scale": {"type": "log", "domain": [0.001, 1], "nice": false},
          "axis": {"orient": "top", "title": null, "labels": false, "tickSize": -11,
            "values": [0.002, 0.003, 0.004, 0.005, 0.006, 0.007, 0.008, 0.009, 0.02, 0.03, 0.04, 0.05, 0.06, 0.07, 0.08, 0.09, 0.2, 0.3, 0.4, 0.5, 0.6, 0.7, 0.8, 0.9]}
        },
        "y": {
          "field": "p", "type": "quantitative",
          "scale": {"type": "log", "domain": [1e-8, 100], "nice": false},
          "axis": {"orient": "right", "title": null, "labels": false, "tickSize": -11,
            "values": [2e-8, 3e-8, 4e-8, 5e-8, 6e-8, 7e-8, 8e-8, 9e-8, 1e-7, 2e-7, 3e-7, 4e-7, 5e-7, 6e-7, 7e-7, 8e-7, 9e-7, 2e-6, 3e-6, 4e-6, 5e-6, 6e-6, 7e-6, 8e-6, 9e-6, 1e-5, 2e-5, 3e-5, 4e-5, 5e-5, 6e-5, 7e-5, 8e-5, 9e-5, 2e-4, 3e-4, 4e-4, 5e-4, 6e-4, 7e-4, 8e-4, 9e-4, 1e-3, 2e-3, 3e-3, 4e-3, 5e-3, 6e-3, 7e-3, 8e-3, 9e-3, 0.02, 0.03, 0.04, 0.05, 0.06, 0.07, 0.08, 0.09, 0.1, 0.2, 0.3, 0.4, 0.5, 0.6, 0.7, 0.8, 0.9, 2, 3, 4, 5, 6, 7, 8, 9, 10, 20, 30, 40, 50, 60, 70, 80, 90]}
        }
      }
    },
    {
      "mark": {"type": "line", "opacity": 0},
      "encoding": {
        "x": {
          "field": "f", "type": "quantitative",
          "scale": {"type": "log", "domain": [0.001, 1], "nice": false},
          "axis": {"orient": "top", "title": null, "labels": false, "tickSize": -20, "values": [0.001, 0.01, 0.1, 1]}
        },
        "y": {
          "field": "p", "type": "quantitative",
          "scale": {"type": "log", "domain": [1e-8, 100], "nice": false},
          "axis": {"orient": "right", "title": null, "labels": false, "tickSize": -20, "values": [1e-8, 1e-6, 1e-4, 1e-2, 1, 100]}
        }
      }
    },
    {
      "mark": {"type": "line", "strokeWidth": 6.5, "strokeJoin": "round"},
      "encoding": {
        "x": {
          "field": "f", "type": "quantitative",
          "scale": {"type": "log", "domain": [0.001, 1], "nice": false},
          "axis": {
            "orient": "bottom", "values": [0.001, 0.01, 0.1, 1],
            "ticks": false, "tickSize": 0, "labelPadding": 90, "labelBaseline": "alphabetic",
            "labelExpr": "'10' + (datum.value < 1 ? '⁻' : '') + ['⁰','¹','²','³','⁴','⁵','⁶','⁷','⁸','⁹'][abs(round(log(datum.value) / LN10))]",
            "title": "Frequency (cps)", "titleX": 915, "titleY": 160,
            "titleBaseline": "alphabetic", "titleAlign": "center", "titleAngle": 0
          }
        },
        "y": {
          "field": "p", "type": "quantitative",
          "scale": {"type": "log", "domain": [1e-8, 100], "nice": false},
          "axis": {
            "orient": "left", "values": [1e-8, 1e-6, 1e-4, 1e-2, 1, 100],
            "ticks": false, "tickSize": 0, "labelPadding": 18, "labelAlign": "right",
            "labelBaseline": "alphabetic", "labelOffset": 30,
            "labelExpr": "'10' + (datum.value < 1 ? '⁻' : '') + ['⁰','¹','²','³','⁴','⁵','⁶','⁷','⁸','⁹'][abs(round(log(datum.value) / LN10))]",
            "title": "Power Spectra (m/s)²/cps", "titleX": -136, "titleY": 722,
            "titleAngle": -90, "titleBaseline": "alphabetic", "titleAlign": "center"
          }
        },
        "color": {
          "field": "s", "type": "nominal",
          "scale": {"domain": ["CTD 1hz", "CTD 2m-binned", "MR P 64 Hz"], "range": ["#0072BD", "#D95319", "#EDB120"]},
          "legend": {"title": null}
        }
      }
    }
  ],
  "resolve": {"axis": {"x": "independent", "y": "independent"}},
  "config": {
    "font": "Liberation Sans",
    "view": {"stroke": "#262626", "strokeWidth": 3},
    "axis": {
      "grid": false, "domain": false,
      "labelFont": "Liberation Sans", "labelFontSize": 58, "labelColor": "#262626",
      "titleFont": "Liberation Sans", "titleFontSize": 58, "titleColor": "#262626", "titleFontWeight": "normal",
      "tickColor": "#262626", "tickWidth": 3,
      "labelFlush": false, "labelOverlap": false, "labelBound": false
    },
    "legend": {
      "orient": "top-right", "offset": 17,
      "labelFont": "Liberation Sans", "labelFontSize": 58, "labelColor": "#000000", "labelLimit": 0,
      "labelOffset": 7,
      "symbolType": "stroke", "symbolSize": 3600, "symbolStrokeWidth": 6,
      "strokeColor": "#262626", "strokeWidth": 3, "fillColor": "white",
      "padding": 11, "rowPadding": 5
    }
  }
}
